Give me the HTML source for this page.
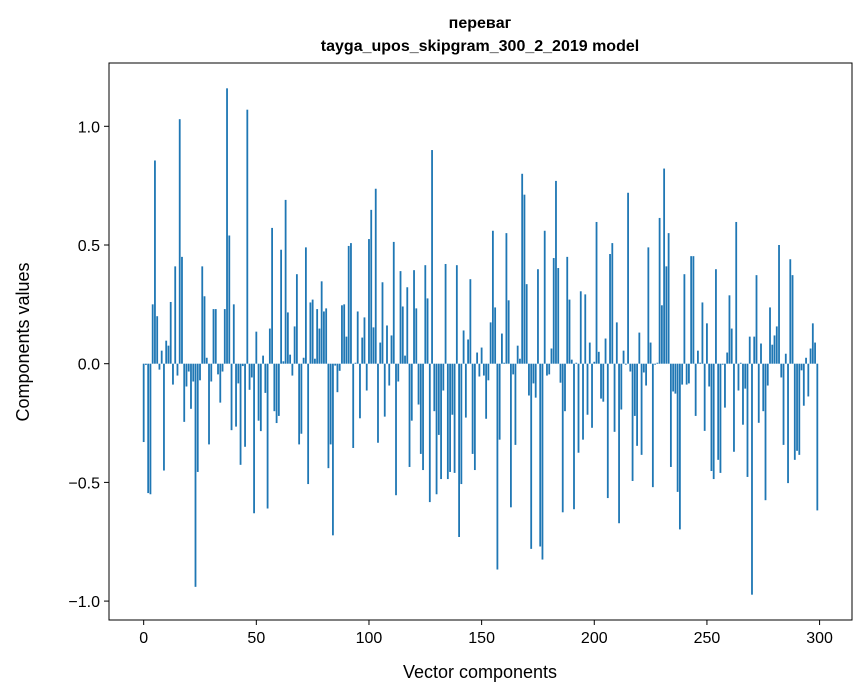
<!DOCTYPE html>
<html><head><meta charset="utf-8"><style>
body{margin:0;background:#fff;}
svg{display:block;font-family:"Liberation Sans","DejaVu Sans",sans-serif;}
</style></head><body>
<svg id="chart" width="867" height="696">
<text x="480" y="28" text-anchor="middle" font-size="16" font-weight="bold">перевaг</text>
<text x="480" y="51" text-anchor="middle" font-size="16" font-weight="bold">tayga_upos_skipgram_300_2_2019 model</text>
<text x="480" y="678" text-anchor="middle" font-size="18">Vector components</text>
<text transform="translate(29,342) rotate(-90)" text-anchor="middle" font-size="18">Components values</text>
<g id="bars"></g>
<g id="axes"></g>
</svg>
<script>
const values = [-0.33,-0.005,-0.545,-0.55,0.25,0.856,0.2,-0.025,0.055,-0.45,
0.097,0.076,0.26,-0.088,0.41,-0.05,1.03,0.45,-0.245,-0.096,
-0.033,-0.19,-0.075,-0.94,-0.456,-0.07,0.41,0.284,0.025,-0.34,
-0.075,0.23,0.23,-0.045,-0.164,-0.033,0.23,1.16,0.54,-0.28,
0.25,-0.265,-0.083,-0.426,-0.01,-0.35,1.07,-0.11,-0.058,-0.63,
0.135,-0.24,-0.284,0.034,-0.123,-0.61,0.148,0.572,-0.2,-0.25,
-0.22,0.48,0.01,0.69,0.216,0.038,-0.05,0.157,0.377,-0.34,
-0.295,0.025,0.49,-0.507,0.258,0.27,0.021,0.23,0.148,0.347,
0.22,0.233,-0.44,-0.34,-0.723,-0.008,-0.12,-0.03,0.246,0.25,
0.114,0.496,0.508,-0.355,0.004,0.22,-0.23,0.11,0.195,-0.113,
0.525,0.648,0.153,0.737,-0.333,0.089,0.343,-0.223,0.161,-0.092,
0.119,0.513,-0.554,-0.075,0.39,0.241,0.034,0.322,-0.435,-0.24,
0.394,0.233,-0.172,-0.38,-0.448,0.415,0.275,-0.583,0.9,-0.2,
-0.55,-0.3,-0.486,-0.113,0.42,-0.486,-0.456,-0.215,-0.46,0.415,
-0.73,-0.507,0.14,-0.227,0.102,0.356,-0.38,-0.448,0.047,-0.054,
0.068,-0.05,-0.232,-0.07,0.174,0.56,0.237,-0.867,-0.32,0.127,
0.004,0.55,0.267,-0.605,-0.045,-0.342,0.076,0.021,0.8,0.712,
0.335,-0.134,-0.78,-0.083,-0.143,0.398,-0.77,-0.825,0.56,-0.05,
-0.045,0.064,0.445,0.77,0.403,-0.08,-0.626,-0.2,0.45,0.27,
0.017,-0.613,0.004,-0.375,0.305,-0.32,0.292,-0.215,0.089,-0.27,
0.008,0.597,0.05,-0.147,-0.16,0.106,-0.566,0.462,0.508,-0.287,
0.174,-0.672,-0.193,0.055,-0.004,0.72,-0.033,-0.494,-0.22,-0.346,
0.131,-0.384,-0.037,-0.092,0.49,0.089,-0.52,-0.004,0.004,0.614,
0.246,0.822,0.41,0.55,-0.435,-0.117,-0.126,-0.54,-0.698,-0.088,
0.377,-0.088,-0.083,0.453,0.453,-0.22,0.055,0.004,0.258,-0.283,
0.17,-0.096,-0.452,-0.486,0.398,-0.405,-0.46,-0.004,-0.185,0.047,
0.288,0.148,-0.371,0.597,-0.113,0.004,-0.257,-0.105,-0.477,0.114,
-0.973,0.114,0.373,-0.249,0.085,-0.2,-0.575,-0.092,0.237,0.08,
0.119,0.157,0.5,-0.058,-0.342,0.042,-0.503,0.44,0.373,-0.405,
-0.367,-0.384,-0.028,-0.177,0.025,-0.138,0.064,0.17,0.089,-0.618];
const xTicks = [0,50,100,150,200,250,300];
const yTicks = [-1.0,-0.5,0.0,0.5,1.0];
const yTickLabels = ["\u22121.0","\u22120.5","0.0","0.5","1.0"];

const L=109,R=852,T=63,B=620;
const n=values.length;
const xmin=-0.4-0.05*(n-0.2), xmax=n-1+0.4+0.05*(n-0.2);
const vmin=Math.min(0,...values), vmax=Math.max(0,...values);
const ymin=vmin-0.05*(vmax-vmin), ymax=vmax+0.05*(vmax-vmin);
const X=v=>L+(v-xmin)/(xmax-xmin)*(R-L);
const Y=v=>B-(v-ymin)/(ymax-ymin)*(B-T);
const NS="http://www.w3.org/2000/svg";
const bars=document.getElementById('bars');
const axes=document.getElementById('axes');
function mk(tag,attrs,parent){const e=document.createElementNS(NS,tag);for(const k in attrs)e.setAttribute(k,attrs[k]);parent.appendChild(e);return e;}
values.forEach((v,i)=>{
  const x0=X(i-0.4),x1=X(i+0.4),y0=Y(0),y1=Y(v);
  const r=mk('rect',{x:x0,y:Math.min(y0,y1),width:x1-x0,height:Math.abs(y1-y0),fill:'#1f77b4'},bars);
  
  
});
const fr=mk('rect',{x:L,y:T,width:R-L,height:B-T,fill:'none',stroke:'#000','stroke-width':1},axes);


xTicks.forEach(t=>{
  const x=X(t);
  mk('line',{x1:x,x2:x,y1:B,y2:B+5,stroke:'#000'},axes);
  const tx=mk('text',{x:x,y:B+23,'text-anchor':'middle','font-size':16},axes);
  tx.textContent=t;
  
  
});
yTicks.forEach((t,i)=>{
  const y=Y(t);
  mk('line',{x1:L-5,x2:L,y1:y,y2:y,stroke:'#000'},axes);
  const tx=mk('text',{x:L-9,y:y+6,'text-anchor':'end','font-size':16},axes);
  tx.textContent=yTickLabels[i];
  
  
});
</script>
</body></html>
